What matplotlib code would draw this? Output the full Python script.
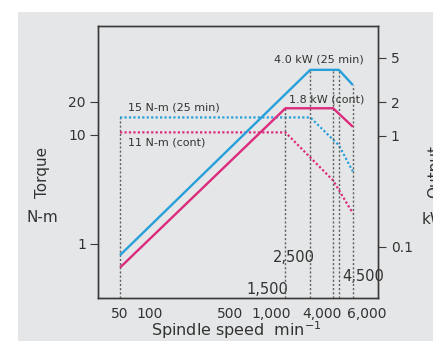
import matplotlib
matplotlib.use('Agg')
import matplotlib.pyplot as plt
from matplotlib.ticker import NullLocator, FixedLocator, FixedFormatter
from matplotlib.transforms import ScaledTranslation
from matplotlib.patches import Rectangle

# ---- data ----
speed_25 = [50, 2500, 4500, 6000]
torque_25 = [14.4, 14.4, 8.0, 4.6]        # N-m (25 min)
power_25 = [0.084, 3.9, 3.9, 2.85]        # kW (25 min)
speed_cont = [50, 1500, 4000, 6000]
torque_cont = [10.5, 10.5, 3.8, 1.9]      # N-m (cont)
power_cont = [0.065, 1.76, 1.76, 1.2]     # kW (cont)
guide_speeds = [1500, 2500, 4000, 4500, 6000]
guide_tops_kw = [1.76, 3.9, 3.9, 3.9, 2.85]
x_ticks = [50, 100, 500, 1000, 4000, 6000]
x_labels = ['50', '100', '500', '1,000', '4,000', '6,000']
x_label_shift_pt = [0, -2.7, -1.4, 4.3, -8, 10]
torque_ticks = [1, 10, 20]
kw_ticks = [0.1, 1, 2, 5]
kw_labels = ['0.1', '1', '2', '5']

BLUE = '#27a0da'
MAG = '#dc2a7d'
GUIDE = '#5e5e5e'
TXT = '#333333'
SPINE = '#3a3a3a'

fig = plt.figure(figsize=(4.33, 3.41), dpi=100, facecolor='white')
fig.patches.append(Rectangle((18 / 433, 0), 1, 1 - 12 / 341, transform=fig.transFigure,
                             facecolor='#e5e6e7', edgecolor='none', zorder=-10))

ax1 = fig.add_axes([97.7 / 433, 1 - 298.3 / 341, 280 / 433, 272.6 / 341])
ax1.set_facecolor('none')
ax1.set_xscale('log')
ax1.set_yscale('log')
ax1.set_xlim(31.6, 10000)
ax1.set_ylim(0.3155, 100)

ax2 = ax1.twinx()
ax2.set_yscale('log')
ax2.set_ylim(0.0344, 9.73)

# guides
ax1.plot([speed_25[0], speed_25[0]], [ax1.get_ylim()[0], torque_25[0]], color=GUIDE,
         lw=1.0, ls=(0, (1.5, 1.5)), zorder=1)
for s, t in zip(guide_speeds, guide_tops_kw):
    ax2.plot([s, s], [ax2.get_ylim()[0], t], color=GUIDE, lw=1.0, ls=(0, (1.5, 1.5)), zorder=1)

# torque (dotted)
ax1.plot(speed_25, torque_25, color=BLUE, lw=1.6, ls=(0, (1, 1)), zorder=2)
ax1.plot(speed_cont, torque_cont, color=MAG, lw=1.6, ls=(0, (1, 1)), zorder=2)
# power (solid)
ax2.plot(speed_25, power_25, color=BLUE, lw=1.7, zorder=3, solid_capstyle='butt')
ax2.plot(speed_cont, power_cont, color=MAG, lw=1.7, zorder=3, solid_capstyle='butt')

# ticks
for a in (ax1, ax2):
    a.xaxis.set_minor_locator(NullLocator())
    a.yaxis.set_minor_locator(NullLocator())
    for sp in a.spines.values():
        sp.set_color(SPINE)
        sp.set_linewidth(1.0)

ax1.xaxis.set_major_locator(FixedLocator(x_ticks))
ax1.xaxis.set_major_formatter(FixedFormatter(x_labels))
ax1.tick_params(axis='x', length=0, pad=6, labelsize=10, labelcolor=TXT)
ax1.yaxis.set_major_locator(FixedLocator(torque_ticks))
ax1.yaxis.set_major_formatter(FixedFormatter([str(v) for v in torque_ticks]))
ax1.tick_params(axis='y', length=5.5, width=0.8, color=SPINE, pad=3, labelsize=10, labelcolor=TXT)
ax2.yaxis.set_major_locator(FixedLocator(kw_ticks))
ax2.yaxis.set_major_formatter(FixedFormatter(kw_labels))
ax2.tick_params(axis='y', length=5.5, width=0.8, color=SPINE, pad=4, labelsize=10, labelcolor=TXT)

for lab, dx in zip(ax1.get_xticklabels(), x_label_shift_pt):
    lab.set_transform(lab.get_transform() + ScaledTranslation(dx / 72, 0, fig.dpi_scale_trans))

# annotations
ax1.text(59, 17.8, '15 N-m (25 min)', fontsize=8, color=TXT, ha='left', va='center')
ax1.text(59, 8.48, '11 N-m (cont)', fontsize=8, color=TXT, ha='left', va='center')
ax2.text(7550, 4.79, '4.0 kW (25 min)', fontsize=8, color=TXT, ha='right', va='center')
ax2.text(7550, 2.09, '1.8 kW (cont)', fontsize=8, color=TXT, ha='right', va='center')
ax1.text(1790, 0.74, '2,500', fontsize=10.5, color=TXT, ha='center', va='center')
ax1.text(1037, 0.376, '1,500', fontsize=10.5, color=TXT, ha='center', va='center')
ax1.text(7395, 0.498, '4,500', fontsize=10.5, color=TXT, ha='center', va='center', clip_on=False)

fig.text(236 / 433, 1 - 330 / 341, 'Spindle speed  min$^{-1}$', fontsize=11.5, color=TXT,
         ha='center', va='center')
fig.text(43 / 433, 1 - 172 / 341, 'Torque', fontsize=11, color=TXT, rotation=90,
         ha='center', va='center')
fig.text(42.5 / 433, 1 - 217 / 341, 'N-m', fontsize=11, color=TXT, ha='center', va='center')
fig.text(435 / 433, 1 - 172 / 341, 'Output', fontsize=11, color=TXT, rotation=90,
         ha='center', va='center')
fig.text(422 / 433, 1 - 219 / 341, 'kW', fontsize=11, color=TXT, ha='left', va='center')

fig.savefig('out.png', dpi=100, facecolor='white')
